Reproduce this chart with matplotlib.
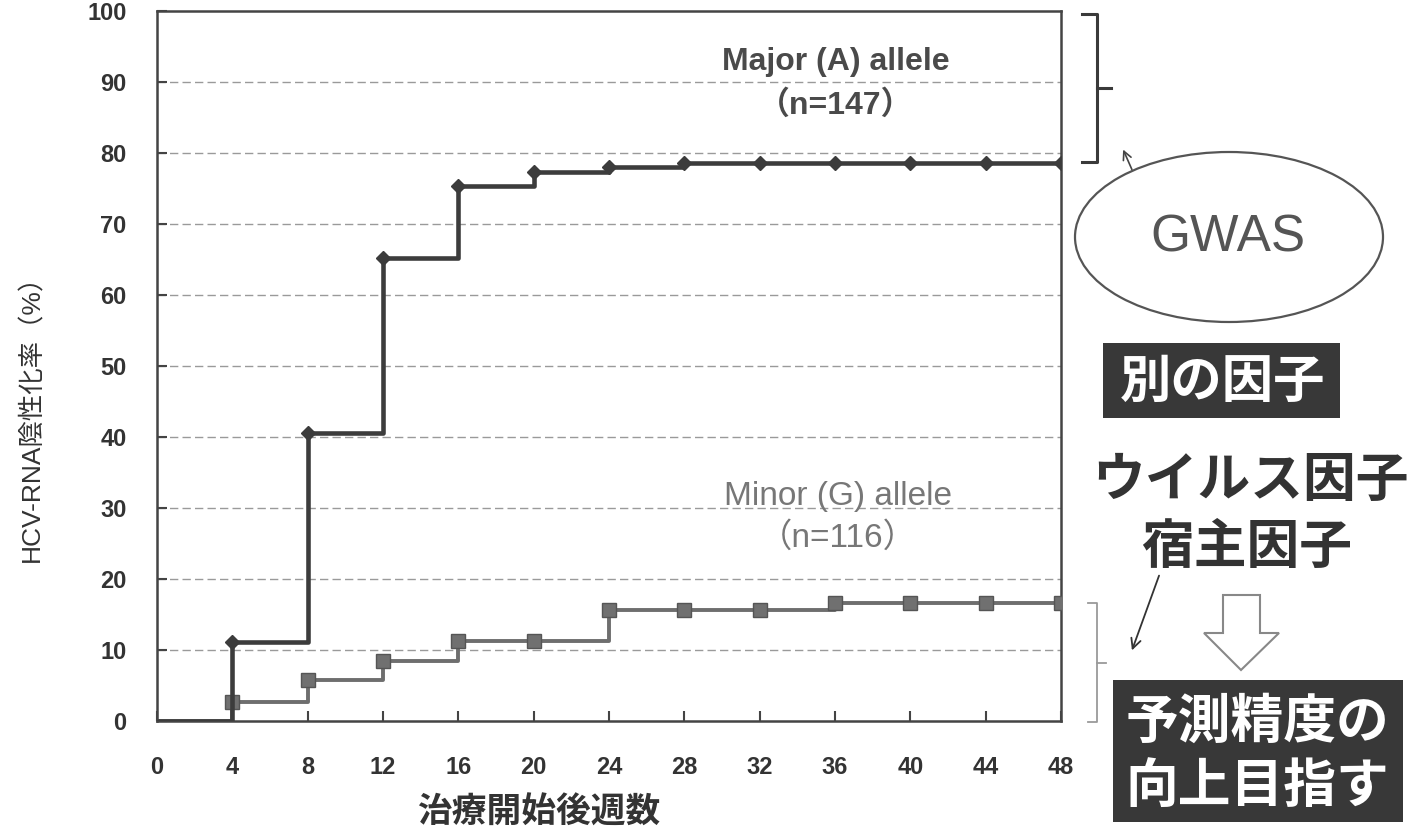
import matplotlib
matplotlib.use("Agg")
import matplotlib.pyplot as plt
from matplotlib.patches import Ellipse, Polygon, Rectangle, FancyArrowPatch
from matplotlib.lines import Line2D

# ---- data ----
weeks = [0, 4, 8, 12, 16, 20, 24, 28, 32, 36, 40, 44, 48]
major_A = [0, 11.1, 40.6, 65.2, 75.3, 77.3, 78.0, 78.6, 78.6, 78.6, 78.6, 78.6, 78.6]
minor_G = [0, 2.7, 5.8, 8.4, 11.3, 11.3, 15.6, 15.6, 15.6, 16.6, 16.6, 16.6, 16.6]
x_ticks = [0, 4, 8, 12, 16, 20, 24, 28, 32, 36, 40, 44, 48]
y_ticks = [0, 10, 20, 30, 40, 50, 60, 70, 80, 90, 100]
major_label = "Major (A) allele"
major_n = "（n=147）"
minor_label = "Minor (G) allele"
minor_n = "（n=116）"
x_title = "治療開始後週数"
y_title = "HCV-RNA陰性化率（%）"

W, H = 1418, 836
fig = plt.figure(figsize=(W / 100, H / 100), dpi=100)
fig.patch.set_facecolor("white")

def fx(px):
    return px / W

def fy(py):
    return 1 - py / H

ax = fig.add_axes([fx(157), fy(721), fx(1061) - fx(157), fy(11) - fy(721)])
ax.set_xlim(0, 48)
ax.set_ylim(0, 100)

for v in y_ticks[1:-1]:
    ax.axhline(v, color="#9a9a9a", lw=1.0, ls=(0, (6, 3)), zorder=1)

ax.plot(weeks, minor_G, drawstyle="steps-post", color="#6e6e6e", lw=2.8, zorder=3)
ax.plot(weeks[1:], minor_G[1:], ls="none", marker="s", ms=9.5, mfc="#707070",
        mec="#555555", mew=1, zorder=4)
ax.plot(weeks, major_A, drawstyle="steps-post", color="#3c3c3c", lw=3.3, zorder=5)
ax.plot(weeks[1:], major_A[1:], ls="none", marker="D", ms=7.5, mfc="#3c3c3c",
        mec="#3c3c3c", zorder=6)

for s in ax.spines.values():
    s.set_color("#444444")
    s.set_linewidth(1.8)

ax.set_xticks(x_ticks)
ax.set_yticks(y_ticks)
ax.tick_params(direction="in", length=7, width=1.5, color="#444444",
               labelsize=17, labelcolor="#333333")
ax.tick_params(axis="x", pad=25)
ax.tick_params(axis="y", pad=22)
for lab in ax.get_xticklabels() + ax.get_yticklabels():
    lab.set_fontfamily(["Liberation Sans", "DejaVu Sans"])
    lab.set_fontweight("bold")

cjk = ["Noto Sans CJK JP", "DejaVu Sans"]
lat = ["Liberation Sans", "Noto Sans CJK JP"]

fig.text(fx(32), fy(412), y_title, rotation=90, ha="center", va="center",
         fontsize=19, color="#333333", family=["Liberation Sans", "Noto Sans CJK JP"])
fig.text(fx(539), fy(812), x_title, ha="center", va="center",
         fontsize=25, color="#333333", family=cjk, fontweight="bold")

# series labels
fig.text(fx(836), fy(62), major_label, ha="center", va="center", fontsize=23,
         color="#4a4a4a", family=lat, fontweight="bold")
fig.text(fx(836), fy(105), major_n, ha="center", va="center", fontsize=23,
         color="#4a4a4a", family=lat, fontweight="bold")
fig.text(fx(838), fy(497), minor_label, ha="center", va="center", fontsize=24,
         color="#777777", family=lat)
fig.text(fx(838), fy(538), minor_n, ha="center", va="center", fontsize=24,
         color="#777777", family=lat)

# brackets
def bracket(x0, xv, xn, y0, y1, color, lw):
    ym = (y0 + y1) / 2
    pts = [(x0, y0), (xv, y0), (xv, y1), (x0, y1)]
    fig.add_artist(Line2D([fx(p[0]) for p in pts], [fy(p[1]) for p in pts],
                          color=color, lw=lw, transform=fig.transFigure))
    fig.add_artist(Line2D([fx(xv), fx(xn)], [fy(ym), fy(ym)], color=color, lw=lw,
                          transform=fig.transFigure))

bracket(1082, 1097, 1111, 14, 162, "#3a3a3a", 2.2)
bracket(1088, 1097, 1106, 603, 722, "#9a9a9a", 1.3)

# GWAS ellipse
fig.add_artist(Ellipse((fx(1229), fy(237)), fx(308), 170 / H, fill=False,
                       ec="#555555", lw=1.6, transform=fig.transFigure))
fig.text(fx(1228), fy(238), "GWAS", ha="center", va="center", fontsize=37,
         color="#555555", family=["Liberation Sans", "DejaVu Sans"])
fig.add_artist(FancyArrowPatch((fx(1133), fy(172)), (fx(1122), fy(147)),
                               arrowstyle="->,head_length=6,head_width=3",
                               color="#444444", lw=1.2, transform=fig.transFigure))

# 別の因子 box
fig.add_artist(Rectangle((fx(1103), fy(418)), fx(1340) - fx(1103), fy(343) - fy(418),
                         fc="#383838", ec="none", transform=fig.transFigure))
fig.text(fx(1223), fy(381), "別の因子", ha="center", va="center", fontsize=37,
         color="white", family=cjk, fontweight="bold")

fig.text(fx(1250), fy(480), "ウイルス因子", ha="center", va="center", fontsize=38,
         color="#333333", family=cjk, fontweight="bold")
fig.text(fx(1247), fy(547), "宿主因子", ha="center", va="center", fontsize=38,
         color="#333333", family=cjk, fontweight="bold")

# thin arrow
fig.add_artist(FancyArrowPatch((fx(1160), fy(573)), (fx(1131), fy(653)),
                               arrowstyle="->,head_length=7,head_width=3.5",
                               color="#333333", lw=1.3, transform=fig.transFigure))

# hollow down arrow
arr = [(1223, 595), (1260, 595), (1260, 633), (1279, 633), (1241, 670),
       (1204, 633), (1223, 633)]
fig.add_artist(Polygon([(fx(a), fy(b)) for a, b in arr], closed=True, fill=False,
                       ec="#888888", lw=1.5, transform=fig.transFigure))

# bottom box
fig.add_artist(Rectangle((fx(1113), fy(822)), fx(1403) - fx(1113), fy(680) - fy(822),
                         fc="#383838", ec="none", transform=fig.transFigure))
fig.text(fx(1257), fy(722), "予測精度の", ha="center", va="center", fontsize=38,
         color="white", family=cjk, fontweight="bold")
fig.text(fx(1257), fy(786), "向上目指す", ha="center", va="center", fontsize=38,
         color="white", family=cjk, fontweight="bold")

fig.savefig("out.png", dpi=100, facecolor="white")
